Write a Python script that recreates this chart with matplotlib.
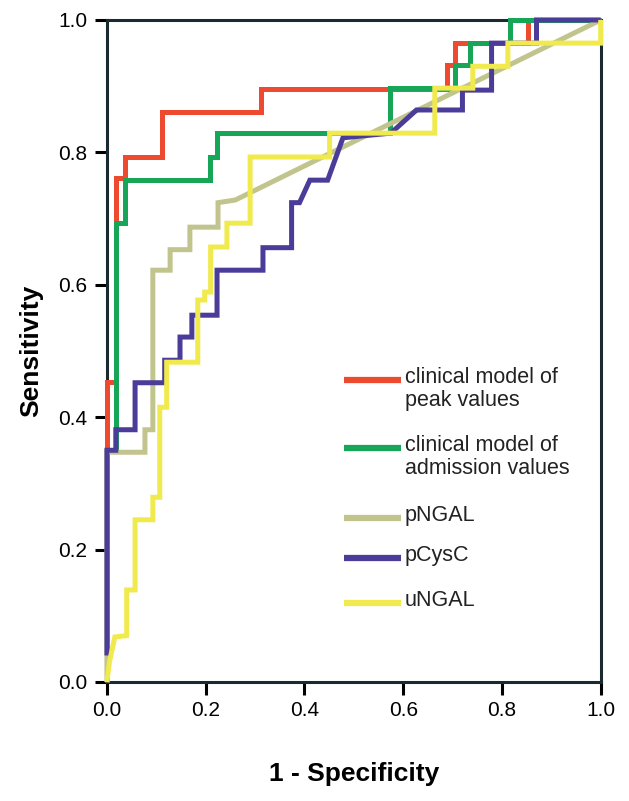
import matplotlib
matplotlib.use("Agg")
import matplotlib.pyplot as plt

plt.rcParams['font.family'] = ['Liberation Sans', 'DejaVu Sans']

# ROC curves: (1 - specificity, sensitivity) vertices
peak_x = [0, 0, 0.018, 0.018, 0.036, 0.036, 0.111, 0.111, 0.313, 0.313, 0.688, 0.688, 0.704, 0.704, 0.852, 0.852, 1.0]
peak_y = [0, 0.453, 0.453, 0.761, 0.761, 0.793, 0.793, 0.861, 0.861, 0.896, 0.896, 0.932, 0.932, 0.965, 0.965, 1.0, 1.0]

adm_x = [0, 0, 0.018, 0.018, 0.036, 0.036, 0.208, 0.208, 0.222, 0.222, 0.573, 0.573, 0.704, 0.704, 0.735, 0.735, 0.816, 0.816, 1.0]
adm_y = [0, 0.35, 0.35, 0.693, 0.693, 0.758, 0.758, 0.793, 0.793, 0.829, 0.829, 0.897, 0.897, 0.932, 0.932, 0.965, 0.965, 1.0, 1.0]

pngal_x = [0, 0, 0.077, 0.077, 0.093, 0.093, 0.128, 0.128, 0.168, 0.168, 0.225, 0.225, 0.26, 1.0]
pngal_y = [0, 0.347, 0.347, 0.381, 0.381, 0.622, 0.622, 0.653, 0.653, 0.687, 0.687, 0.724, 0.728, 1.0]

pcysc_x = [0, 0, 0.018, 0.018, 0.057, 0.057, 0.117, 0.117, 0.148, 0.148, 0.172, 0.172, 0.223, 0.223,
           0.316, 0.316, 0.374, 0.374, 0.39, 0.411, 0.447, 0.478, 0.575, 0.627, 0.72, 0.72, 0.779, 0.779,
           0.87, 0.87, 1.0]
pcysc_y = [0.04, 0.35, 0.35, 0.381, 0.381, 0.452, 0.452, 0.486, 0.486, 0.521, 0.521, 0.554, 0.554, 0.622,
           0.622, 0.656, 0.656, 0.724, 0.724, 0.758, 0.758, 0.822, 0.829, 0.864, 0.864, 0.894, 0.894, 0.965,
           0.965, 1.0, 1.0]

ungal_x = [0, 0.005, 0.016, 0.04, 0.04, 0.057, 0.057, 0.093, 0.093, 0.107, 0.107, 0.121, 0.121, 0.184, 0.184,
           0.198, 0.198, 0.21, 0.21, 0.243, 0.243, 0.29, 0.29, 0.451, 0.451, 0.664, 0.664, 0.741, 0.741,
           0.812, 0.812, 1.0, 1.0]
ungal_y = [0, 0.03, 0.068, 0.07, 0.139, 0.139, 0.245, 0.245, 0.279, 0.279, 0.415, 0.415, 0.483, 0.483, 0.577,
           0.577, 0.589, 0.589, 0.657, 0.657, 0.693, 0.693, 0.793, 0.793, 0.829, 0.829, 0.897, 0.897, 0.93,
           0.93, 0.965, 0.965, 1.0]

labels = ["clinical model of\npeak values", "clinical model of\nadmission values", "pNGAL", "pCysC", "uNGAL"]
colors = ["#ee4a30", "#17a558", "#c2c48e", "#4a3c98", "#f0ea4e"]
ticks = [0.0, 0.2, 0.4, 0.6, 0.8, 1.0]

fig = plt.figure(figsize=(6.29, 8.01), dpi=100)
ax = fig.add_axes([0.170, 0.1486, 0.785, 0.8265])

series = [(peak_x, peak_y), (adm_x, adm_y), (pngal_x, pngal_y), (pcysc_x, pcysc_y), (ungal_x, ungal_y)]
for (xs, ys), c in zip(series, colors):
    ax.plot(xs, ys, color=c, lw=3.6, solid_joinstyle='miter', solid_capstyle='butt',
            clip_on=False, zorder=3)

ax.set_xlim(0, 1)
ax.set_ylim(0, 1)
ax.set_xticks(ticks)
ax.set_yticks(ticks)
ax.set_xticklabels([f"{t:.1f}" for t in ticks])
ax.set_yticklabels([f"{t:.1f}" for t in ticks])
ax.tick_params(direction='out', length=9, width=2.2, labelsize=15, pad=5)
for s in ax.spines.values():
    s.set_linewidth(2.2)
    s.set_color("#1a2a30")

ax.set_xlabel("1 - Specificity", fontsize=19, fontweight='bold', labelpad=30)
ax.set_ylabel("Sensitivity", fontsize=19, fontweight='bold', labelpad=11)

# legend drawn by hand so each handle sits on the first text line
leg_y = [0.456, 0.353, 0.248, 0.187, 0.119]
for lab, c, yy in zip(labels, colors, leg_y):
    ax.plot([0.48, 0.595], [yy, yy], color=c, lw=4.5, transform=ax.transAxes, solid_capstyle='butt')
    ax.text(0.603, yy + 0.02, lab, transform=ax.transAxes, fontsize=15.5, va='top', ha='left',
            linespacing=1.15, color="#222222")

fig.savefig("out.png", dpi=100)
